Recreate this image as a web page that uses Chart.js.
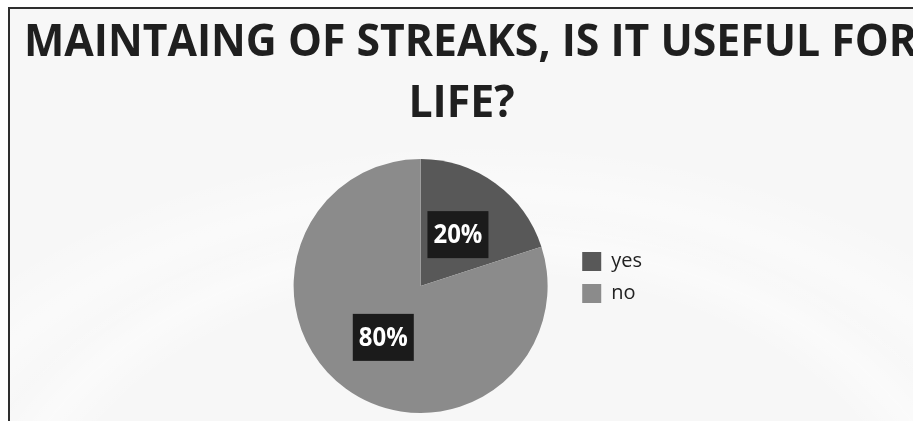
<!DOCTYPE html>
<html lang="en">
<head>
<meta charset="UTF-8">
<title>Streaks</title>
<script src="https://cdn.jsdelivr.net/npm/chart.js@4.4.1/dist/chart.umd.min.js"></script>
<style>
  html, body { margin: 0; padding: 0; background: #fff; }
  body { width: 913px; height: 421px; position: relative; overflow: hidden; }
  .frame {
    position: absolute; left: 8px; top: 7px; right: -10px; bottom: -10px;
    border-top: 2px solid #2e2e2e; border-left: 2px solid #2e2e2e;
    background:
      radial-gradient(ellipse 620px 420px at 470px 560px, rgba(255,255,255,0) 70%, rgba(255,255,255,0.45) 78%, rgba(255,255,255,0) 86%),
      radial-gradient(ellipse 760px 520px at 470px 600px, rgba(255,255,255,0) 72%, rgba(255,255,255,0.4) 80%, rgba(255,255,255,0) 90%),
      #f7f7f7;
  }
  canvas { position: absolute; left: 0; top: 0; }
</style>
</head>
<body>
  <div class="frame"></div>
  <canvas id="streaks-chart" width="913" height="421"></canvas>
  <script>
    const titleLines = ['MAINTAING OF STREAKS, IS IT USEFUL FOR', 'LIFE?'];
    const answers = ['yes', 'no'];
    const shares = [20, 80];          // percent of replies
    const sliceColors = ['#585858', '#8b8b8b'];

    // big condensed heading, squeezed to the width of the slide
    const headingPlugin = {
      id: 'heading',
      afterDraw(chart, args, opts) {
        const ctx = chart.ctx;
        ctx.save();
        ctx.font = 'bold 45px "Open Sans"';
        ctx.fillStyle = '#1f1f1f';
        ctx.textBaseline = 'alphabetic';
        const sx = opts.firstWidth / ctx.measureText(opts.lines[0]).width;

        ctx.save();
        ctx.translate(opts.firstLeft, opts.baselines[0]);
        ctx.scale(sx, 1);
        ctx.textAlign = 'left';
        ctx.fillText(opts.lines[0], 0, 0);
        ctx.restore();

        ctx.save();
        ctx.translate(opts.secondCenter, opts.baselines[1]);
        ctx.scale(sx, 1);
        ctx.textAlign = 'center';
        ctx.fillText(opts.lines[1], 0, 0);
        ctx.restore();
        ctx.restore();
      }
    };

    // black boxes with the percentage in the middle of each slice
    const sliceLabels = {
      id: 'sliceLabels',
      afterDatasetsDraw(chart) {
        const ctx = chart.ctx;
        const meta = chart.getDatasetMeta(0);
        const data = chart.data.datasets[0].data;
        ctx.save();
        ctx.font = 'bold 26px "Open Sans"';
        ctx.textAlign = 'center';
        ctx.textBaseline = 'middle';
        meta.data.forEach((arc, i) => {
          const p = arc.getCenterPoint();
          ctx.fillStyle = '#1b1b1b';
          ctx.fillRect(p.x - 30.5, p.y - 23.5, 61, 47);
          ctx.save();
          ctx.translate(p.x, p.y + 1);
          ctx.scale(0.92, 1);
          ctx.fillStyle = '#ffffff';
          ctx.fillText(data[i] + '%', 0, 0);
          ctx.restore();
        });
        ctx.restore();
      }
    };

    const ctx = document.getElementById('streaks-chart').getContext('2d');
    new Chart(ctx, {
      type: 'pie',
      data: {
        labels: answers,
        datasets: [{
          data: shares,
          backgroundColor: sliceColors,
          borderWidth: 0
        }]
      },
      options: {
        responsive: false,
        animation: false,
        layout: {
          padding: { top: 159, bottom: 8, left: 271, right: 261 }
        },
        plugins: {
          tooltip: { enabled: false },
          legend: {
            position: 'right',
            align: 'start',
            // empty title only used as a spacer above the items
            title: { display: true, text: ' ', font: { size: 12 }, padding: { top: 66, bottom: 0 } },
            labels: {
              boxWidth: 19,
              boxHeight: 19,
              padding: 12,
              color: '#222222',
              font: { family: '"Open Sans"', size: 20 }
            }
          },
          heading: {
            lines: titleLines,
            firstLeft: 24,
            firstWidth: 893,
            baselines: [56, 117],
            secondCenter: 461.5
          }
        }
      },
      plugins: [headingPlugin, sliceLabels]
    });
  </script>
</body>
</html>
